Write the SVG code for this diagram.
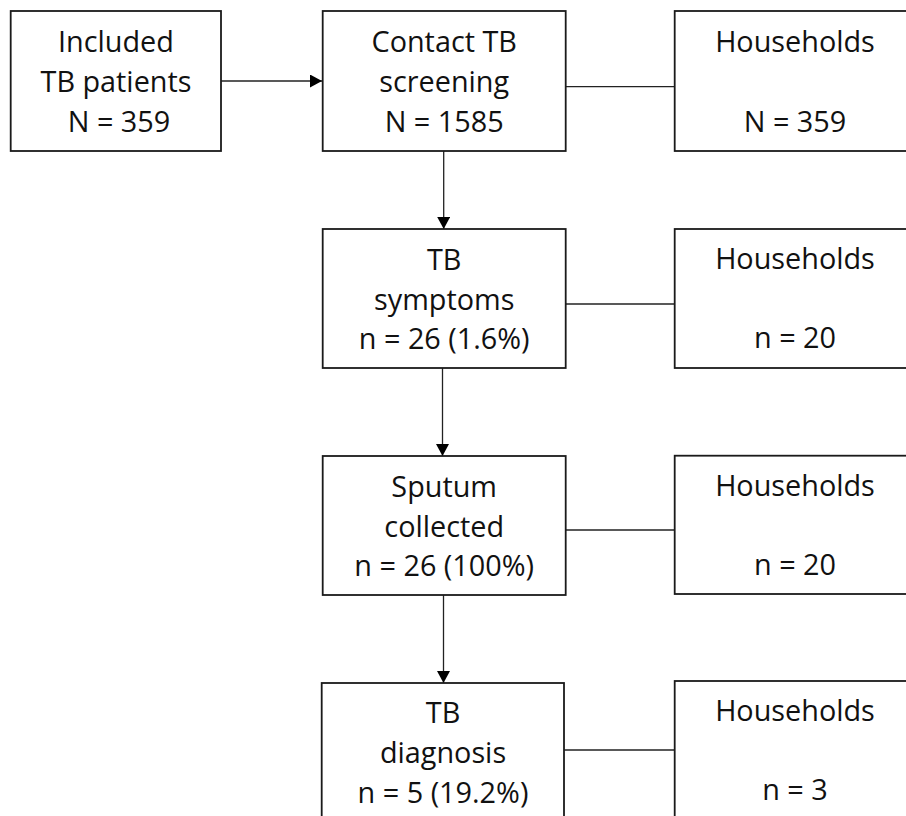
<svg xmlns="http://www.w3.org/2000/svg" width="906" height="816" viewBox="0 0 906 816">
<style>
.box{fill:#fff;stroke:#1a1a1a;stroke-width:1.8}
.t{font-family:"Open Sans","Liberation Sans",sans-serif;font-size:28.8px;fill:#111;text-anchor:middle}
.c{stroke:#222;stroke-width:1.3;fill:none}
</style>
<defs>
<marker id="ah" markerWidth="12" markerHeight="13" refX="12" refY="6.5" orient="auto" markerUnits="userSpaceOnUse">
<path d="M0,0 L12,6.5 L0,13 Z" fill="#000"/>
</marker>
</defs>
<rect width="906" height="816" fill="#fff"/>
<g id="connectors">
<line class="c" x1="221" y1="81" x2="322" y2="81" marker-end="url(#ah)"/>
<line class="c" x1="565.7" y1="86.7" x2="674.7" y2="86.7"/>
<line class="c" x1="443.7" y1="151" x2="443.7" y2="229" marker-end="url(#ah)"/>
<line class="c" x1="565.7" y1="304" x2="674.7" y2="304"/>
<line class="c" x1="442.5" y1="368" x2="442.5" y2="456" marker-end="url(#ah)"/>
<line class="c" x1="565.7" y1="530" x2="674.7" y2="530"/>
<line class="c" x1="443.5" y1="595" x2="443.5" y2="683" marker-end="url(#ah)"/>
<line class="c" x1="564" y1="750" x2="674.7" y2="750"/>
</g>
<g id="included">
<rect class="box" x="10.7" y="11" width="210.3" height="140"/>
<text class="t" x="116" y="52">Included</text>
<text class="t" x="116" y="92">TB patients</text>
<text class="t" x="119" y="132">N = 359</text>
</g>
<g id="screening">
<rect class="box" x="322.7" y="11" width="243" height="140"/>
<text class="t" x="444.2" y="52">Contact TB</text>
<text class="t" x="444.2" y="92">screening</text>
<text class="t" x="444.2" y="132">N = 1585</text>
</g>
<g id="hh1">
<rect class="box" x="674.7" y="11" width="241" height="140"/>
<text class="t" x="795" y="52">Households</text>
<text class="t" x="795" y="132">N = 359</text>
</g>
<g id="symptoms">
<rect class="box" x="322.7" y="229" width="243" height="139"/>
<text class="t" x="444.2" y="270">TB</text>
<text class="t" x="444.2" y="310">symptoms</text>
<text class="t" x="444.2" y="349">n = 26 (1.6%)</text>
</g>
<g id="hh2">
<rect class="box" x="674.7" y="229" width="241" height="139"/>
<text class="t" x="795" y="269">Households</text>
<text class="t" x="795" y="348">n = 20</text>
</g>
<g id="sputum">
<rect class="box" x="322.7" y="456" width="243" height="139"/>
<text class="t" x="444.2" y="497">Sputum</text>
<text class="t" x="444.2" y="537">collected</text>
<text class="t" x="444.2" y="576">n = 26 (100%)</text>
</g>
<g id="hh3">
<rect class="box" x="674.7" y="455.7" width="241" height="138.3"/>
<text class="t" x="795" y="496">Households</text>
<text class="t" x="795" y="575">n = 20</text>
</g>
<g id="diagnosis">
<rect class="box" x="321.7" y="683" width="242.3" height="140"/>
<text class="t" x="443" y="723">TB</text>
<text class="t" x="443" y="763">diagnosis</text>
<text class="t" x="443" y="802.5">n = 5 (19.2%)</text>
</g>
<g id="hh4">
<rect class="box" x="674.7" y="681" width="241" height="142"/>
<text class="t" x="795" y="721">Households</text>
<text class="t" x="795" y="800">n = 3</text>
</g>
</svg>
